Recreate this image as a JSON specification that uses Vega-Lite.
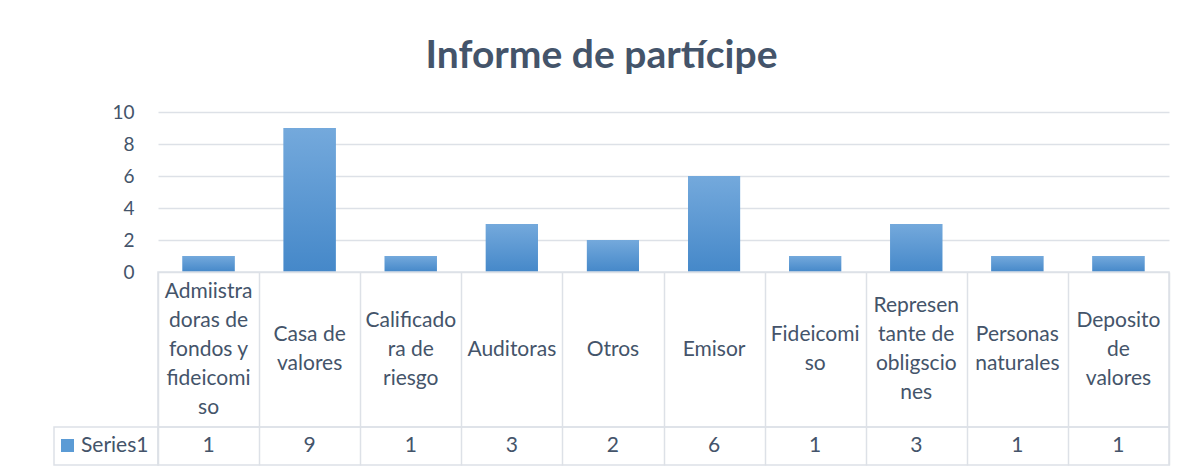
{
  "$schema": "https://vega.github.io/schema/vega-lite/v6.json",
  "padding": {"left": 53, "top": 37, "right": 30, "bottom": 6},
  "background": "#ffffff",
  "title": {
    "text": "Informe de partícipe",
    "font": "Lato",
    "fontSize": 39,
    "fontWeight": "bold",
    "color": "#44546a",
    "anchor": "middle",
    "dx": -10,
    "offset": 27
  },
  "config": {
    "view": {"stroke": null},
    "font": "Lato"
  },
  "datasets": {
    "d": [
      {"categoria": "Admiistradoras de fondos y fideicomiso", "etiqueta": "Admiistra\ndoras de\nfondos y\nfideicomi\nso", "valor": 1, "serie": "Series1"},
      {"categoria": "Casa de valores", "etiqueta": "Casa de\nvalores", "valor": 9, "serie": "Series1"},
      {"categoria": "Calificadora de riesgo", "etiqueta": "Calificado\nra de\nriesgo", "valor": 1, "serie": "Series1"},
      {"categoria": "Auditoras", "etiqueta": "Auditoras", "valor": 3, "serie": "Series1"},
      {"categoria": "Otros", "etiqueta": "Otros", "valor": 2, "serie": "Series1"},
      {"categoria": "Emisor", "etiqueta": "Emisor", "valor": 6, "serie": "Series1"},
      {"categoria": "Fideicomiso", "etiqueta": "Fideicomi\nso", "valor": 1, "serie": "Series1"},
      {"categoria": "Representante de obligsciones", "etiqueta": "Represen\ntante de\nobligscio\nnes", "valor": 3, "serie": "Series1"},
      {"categoria": "Personas naturales", "etiqueta": "Personas\nnaturales", "valor": 1, "serie": "Series1"},
      {"categoria": "Deposito de valores", "etiqueta": "Deposito\nde\nvalores", "valor": 1, "serie": "Series1"}
    ]
  },
  "columns": 2,
  "spacing": 0,
  "bounds": "flush",
  "concat": [
    {
      "width": 104,
      "height": 160,
      "data": {"values": []},
      "mark": "point",
      "encoding": {}
    },
    {
      "width": 1011,
      "height": 160,
      "data": {"name": "d"},
      "encoding": {
        "x": {
          "field": "categoria",
          "type": "nominal",
          "sort": null,
          "scale": {"paddingInner": 0, "paddingOuter": 0},
          "axis": null
        },
        "y": {
          "field": "valor",
          "type": "quantitative",
          "scale": {"domain": [0, 10], "nice": false},
          "axis": {
            "values": [0, 2, 4, 6, 8, 10],
            "title": null,
            "grid": true,
            "gridColor": "#dde1e7",
            "gridWidth": 1.5,
            "domain": false,
            "ticks": false,
            "labelPadding": 24,
            "labelFontSize": 19,
            "labelColor": "#44546a",
            "labelFont": "Lato"
          }
        }
      },
      "layer": [
        {
          "mark": {"type": "bar", "width": {"band": 0.515}},
          "encoding": {
            "color": {
              "field": "serie",
              "type": "nominal",
              "scale": {"range": ["#5b9bd5"]},
              "legend": {
                "orient": "none",
                "legendX": 3,
                "legendY": 323,
                "title": null,
                "padding": 0,
                "symbolType": "square",
                "symbolSize": 169,
                "symbolStrokeWidth": 0,
                "labelFontSize": 21,
                "labelColor": "#44546a",
                "labelFont": "Lato",
                "labelOffset": 3
              }
            }
          }
        },
        {
          "mark": {
            "type": "bar",
            "width": {"band": 0.515},
            "color": {"gradient": "linear", "x1": 0, "y1": 0, "x2": 0, "y2": 1,
              "stops": [{"offset": 0, "color": "#74a9dc"}, {"offset": 1, "color": "#4588c9"}]}
          }
        }
      ]
    },
    {
      "width": 104,
      "height": 155,
      "data": {"values": []},
      "mark": "point",
      "encoding": {}
    },
    {
      "width": 1011,
      "height": 155,
      "view": {"stroke": "#dde1e7", "strokeWidth": 1.5},
      "data": {"name": "d"},
      "mark": {
        "type": "text",
        "lineBreak": "\n",
        "fontSize": 21,
        "lineHeight": 29,
        "color": "#44546a",
        "font": "Lato",
        "baseline": "middle",
        "dy": {"expr": "-14.5 * (length(split(datum.etiqueta, '\\n')) - 1)"}
      },
      "encoding": {
        "x": {
          "field": "categoria",
          "type": "nominal",
          "sort": null,
          "scale": {"paddingInner": 0, "paddingOuter": 0},
          "axis": {
            "title": null,
            "labels": false,
            "ticks": false,
            "domain": false,
            "grid": true,
            "tickBand": "extent",
            "gridColor": "#dde1e7",
            "gridWidth": 1.5
          }
        },
        "text": {"field": "etiqueta"}
      }
    },
    {
      "width": 104,
      "height": 38,
      "view": {"stroke": "#dde1e7", "strokeWidth": 1.5},
      "data": {"values": []},
      "mark": "point",
      "encoding": {}
    },
    {
      "width": 1011,
      "height": 38,
      "view": {"stroke": "#dde1e7", "strokeWidth": 1.5},
      "data": {"name": "d"},
      "mark": {"type": "text", "fontSize": 21, "color": "#44546a", "font": "Lato"},
      "encoding": {
        "x": {
          "field": "categoria",
          "type": "nominal",
          "sort": null,
          "scale": {"paddingInner": 0, "paddingOuter": 0},
          "axis": {
            "title": null,
            "labels": false,
            "ticks": false,
            "domain": false,
            "grid": true,
            "tickBand": "extent",
            "gridColor": "#dde1e7",
            "gridWidth": 1.5
          }
        },
        "text": {"field": "valor", "type": "quantitative"}
      }
    }
  ]
}
